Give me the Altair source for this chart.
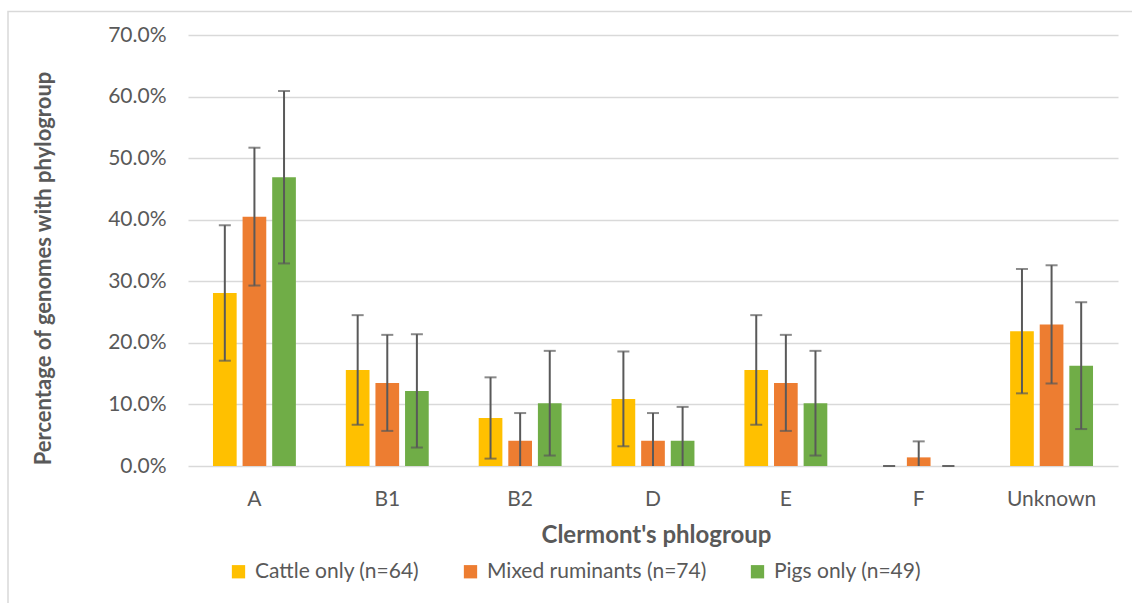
import altair as alt
import pandas as pd

# Phylogroup shares per host group, with 95% error margins
groups = ["A", "B1", "B2", "D", "E", "F", "Unknown"]
series = ["Cattle only (n=64)", "Mixed ruminants (n=74)", "Pigs only (n=49)"]
colors = ["#FFC000", "#ED7D31", "#70AD47"]

cattle = [0.281, 0.156, 0.078, 0.109, 0.156, 0.0, 0.219]
mixed = [0.405, 0.135, 0.041, 0.041, 0.135, 0.014, 0.230]
pigs = [0.469, 0.122, 0.102, 0.041, 0.102, 0.0, 0.163]

cattle_err = [0.110, 0.089, 0.066, 0.077, 0.089, 0.0, 0.101]
mixed_err = [0.112, 0.078, 0.045, 0.045, 0.078, 0.026, 0.096]
pigs_err = [0.140, 0.092, 0.085, 0.055, 0.085, 0.0, 0.103]

rows = []
for name, vals, errs in zip(series, [cattle, mixed, pigs], [cattle_err, mixed_err, pigs_err]):
    for g, v, e in zip(groups, vals, errs):
        rows.append({"group": g, "series": name, "value": v,
                     "lo": v - e, "hi": v + e})
df = pd.DataFrame(rows)

TEXT = "#595959"
GRID = "#D9D9D9"

x_enc = alt.X(
    "group:N", sort=groups,
    scale=alt.Scale(paddingInner=0.376, paddingOuter=0.188),
    axis=alt.Axis(
        title="Clermont's phlogroup", labelAngle=0, ticks=False,
        domain=False, labelFontSize=21, labelColor=TEXT, labelPadding=22,
        titleFontSize=24, titleFontWeight="bold", titleColor=TEXT,
        titlePadding=14, titleX=468,
    ),
)
off_enc = alt.XOffset("series:N", sort=series,
                      scale=alt.Scale(paddingInner=0.2, paddingOuter=0))
y_scale = alt.Scale(domain=[0, 0.7], nice=False)

base = alt.Chart(df)

bars = base.mark_bar().encode(
    x=x_enc,
    xOffset=off_enc,
    y=alt.Y(
        "value:Q", scale=y_scale,
        axis=alt.Axis(
            format=".1%", values=[0, 0.1, 0.2, 0.3, 0.4, 0.5, 0.6, 0.7],
            grid=True, gridColor=GRID, gridWidth=1.5, domain=False,
            ticks=False, labelPadding=22, labelFontSize=21, labelColor=TEXT,
            title="Percentage of genomes with phylogroup",
            titleFontSize=22, titleFontWeight="bold", titleColor=TEXT,
            titleX=-133, titleY=233,
        ),
    ),
    color=alt.Color(
        "series:N", sort=series,
        scale=alt.Scale(domain=series, range=colors),
        legend=alt.Legend(
            orient="none", legendX=40, legendY=526, direction="horizontal",
            title=None, symbolType="square", symbolSize=177,
            symbolStrokeWidth=0, labelFontSize=21, labelColor=TEXT,
            labelLimit=0, columnPadding=40, labelOffset=6,
        ),
    ),
)

whisker = base.transform_calculate(lo0="max(datum.lo, 0)").mark_rule(
    color=TEXT, strokeWidth=2
).encode(
    x="group:N", xOffset="series:N",
    y=alt.Y("lo0:Q", scale=y_scale), y2="hi:Q",
)

cap_hi = base.mark_tick(color=TEXT, thickness=2, size=12).encode(
    x="group:N", xOffset="series:N", y=alt.Y("hi:Q", scale=y_scale),
)
cap_lo = base.transform_filter("datum.lo > -0.0005").mark_tick(
    color=TEXT, thickness=2, size=12
).encode(
    x="group:N", xOffset="series:N", y=alt.Y("lo:Q", scale=y_scale),
)

frame = alt.Chart(pd.DataFrame({"k": [0]})).mark_rect(
    fillOpacity=0, stroke=GRID, strokeWidth=1.5
).encode(
    x=alt.value(-180), x2=alt.value(970),
    y=alt.value(-23.5), y2=alt.value(600),
)

chart = alt.layer(frame, bars, whisker, cap_hi, cap_lo).properties(
    width=930, height=431,
    autosize=alt.AutoSizeParams(type="none"),
    padding={"left": 188, "top": 35, "right": 14, "bottom": 137},
    background="white",
).configure(font="Lato").configure_view(stroke=None, strokeWidth=0)

chart.save("out.html", embed_options={"renderer": "svg", "actions": False})
